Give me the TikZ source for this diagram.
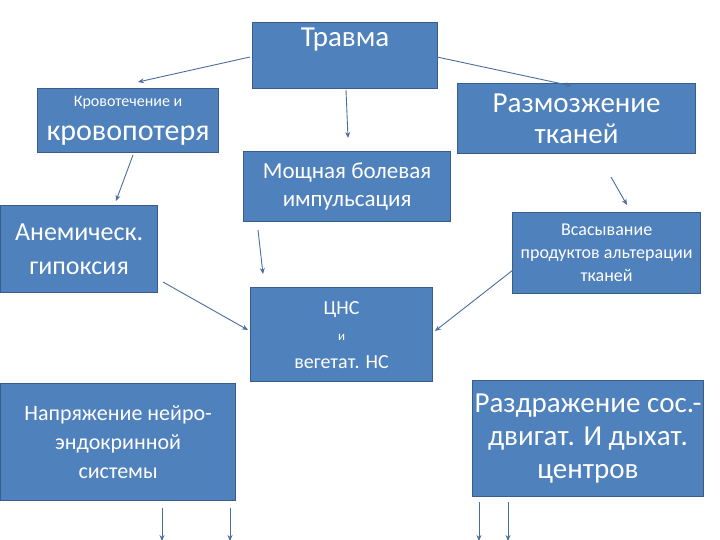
\documentclass[tikz,border=0pt]{standalone}
\usepackage{fontspec}
\setmainfont{Carlito}
\usetikzlibrary{arrows.meta}
\definecolor{boxfill}{HTML}{4F81BD}
\definecolor{boxline}{HTML}{385D8A}
\definecolor{arr}{HTML}{4A6F9E}
\newcommand{\fs}[2]{\fontsize{#1}{#2}\selectfont}
\tikzset{
  box/.style={draw=boxline, line width=1.2pt, fill=boxfill, text=white, align=center, inner sep=2pt, anchor=north west},
  arw/.style={draw=arr, line width=0.9pt, -{Stealth[length=6pt,width=5pt]}},
}
\begin{document}
\begin{tikzpicture}[x=1pt,y=-1pt]
\useasboundingbox[fill=white] (0,0) rectangle (720,540);
\node[box, minimum width=185, minimum height=66, font=\fs{29}{32}] (trauma) at (252,22) {Травма\\[4pt]};
\node[box, minimum width=181, minimum height=64, font=\fs{30}{32}] (blood) at (37,88) {{\fs{16}{18}Кровотечение и}\\[2pt]кровопотеря};
\node[box, minimum width=238, minimum height=70, font=\fs{29}{31}] (crush) at (457,83) {Размозжение\\тканей};
\node[box, minimum width=207, minimum height=70, font=\fs{23}{28}] (pain) at (243,151) {Мощная болевая\\импульсация};
\node[box, minimum width=157, minimum height=87, font=\fs{26}{34}] (anem) at (0,205) {Анемическ.\\гипоксия};
\node[box, minimum width=188, minimum height=81, font=\fs{18}{23}] (absorb) at (512,212) {Всасывание\\продуктов альтерации\\тканей};
\node[box, minimum width=182, minimum height=94, font=\fs{20}{22}] (cns) at (250,287) {ЦНС\\[4pt]{\fs{13}{14}и}\\[6pt]вегетат. НС};
\node[box, minimum width=235, minimum height=117, font=\fs{22}{29}] (neuro) at (0,383) {Напряжение нейро-\\эндокринной\\системы};
\node[box, minimum width=221, minimum height=116, font=\fs{29}{33}] (irrit) at (472,380) {Раздражение сос.-\\двигат.  И дыхат.\\центров};
% arrows
\coordinate (a1s) at (250,57); \coordinate (a1e) at (138,82);
\coordinate (a2s) at (437,57); \coordinate (a2e) at (572,86);
\coordinate (a3s) at (346,90); \coordinate (a3e) at (348,138);
\coordinate (a4s) at (133,155); \coordinate (a4e) at (116,201);
\coordinate (a5s) at (611,177); \coordinate (a5e) at (627,205);
\coordinate (a6s) at (258,230); \coordinate (a6e) at (263,274);
\coordinate (a7s) at (163,282); \coordinate (a7e) at (248,330);
\coordinate (a8s) at (513,270); \coordinate (a8e) at (435,331);
\draw[arw] (a1s) -- (a1e);
\draw[arw] (a2s) -- (a2e);
\draw[arw] (a3s) -- (a3e);
\draw[arw] (a4s) -- (a4e);
\draw[arw] (a5s) -- (a5e);
\draw[arw] (a6s) -- (a6e);
\draw[arw] (a7s) -- (a7e);
\draw[arw] (a8s) -- (a8e);
\coordinate (b1) at (162,508); \coordinate (b1e) at (162,541);
\coordinate (b2) at (230,508); \coordinate (b2e) at (230,541);
\coordinate (b3) at (479,502); \coordinate (b3e) at (479,541);
\coordinate (b4) at (508,502); \coordinate (b4e) at (508,541);
\draw[arw] (b1) -- (b1e);
\draw[arw] (b2) -- (b2e);
\draw[arw] (b3) -- (b3e);
\draw[arw] (b4) -- (b4e);
\end{tikzpicture}
\end{document}
